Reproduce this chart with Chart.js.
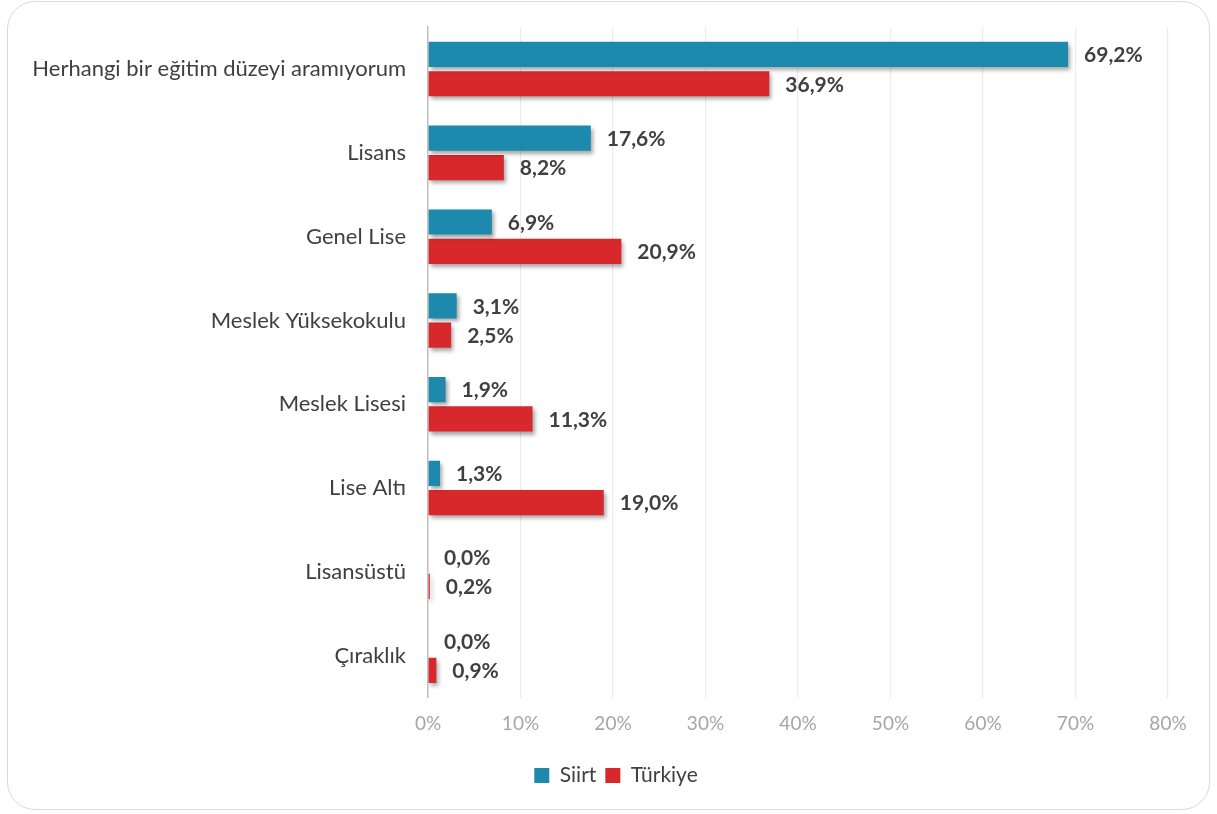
<!DOCTYPE html>
<html>
<head>
<meta charset="utf-8">
<script src="https://cdn.jsdelivr.net/npm/chart.js@4.4.0/dist/chart.umd.min.js"></script>
<style>
  html, body { margin: 0; padding: 0; background: #fff; }
  #wrap { position: relative; width: 1217px; height: 814px; }
  #frame {
    position: absolute; left: 7px; top: 1px; width: 1203px; height: 809px;
    border: 1.5px solid #d9d9d9; border-radius: 28px; box-sizing: border-box;
  }
  #chart { position: absolute; left: 0; top: 0; }
</style>
</head>
<body>
<div id="wrap">
  <div id="frame"></div>
  <canvas id="chart" width="1217" height="814"></canvas>
</div>
<script>
const categories = [
  "Herhangi bir eğitim düzeyi aramıyorum",
  "Lisans",
  "Genel Lise",
  "Meslek Yüksekokulu",
  "Meslek Lisesi",
  "Lise Altı",
  "Lisansüstü",
  "Çıraklık",
];
const siirtValues = [69.2, 17.6, 6.9, 3.1, 1.9, 1.3, 0.0, 0.0];
const turkiyeValues = [36.9, 8.2, 20.9, 2.5, 11.3, 19.0, 0.2, 0.9];
const seriesNames = ["Siirt", "Türkiye"];

const FONT = "Lato, 'Open Sans', sans-serif";

// soft drop shadow under the bars, like the original
const barShadow = {
  id: "barShadow",
  beforeDatasetsDraw(chart) {
    const ctx = chart.ctx;
    ctx.save();
    ctx.shadowColor = "rgba(0,0,0,0.35)";
    ctx.shadowBlur = 4;
    ctx.shadowOffsetX = 2;
    ctx.shadowOffsetY = 3;
  },
  afterDatasetsDraw(chart) {
    chart.ctx.restore();
  },
};

const valueLabels = {
  id: "valueLabels",
  afterDatasetsDraw(chart) {
    const ctx = chart.ctx;
    ctx.save();
    ctx.font = "bold 21px " + FONT;
    ctx.fillStyle = "#404040";
    ctx.textAlign = "left";
    ctx.textBaseline = "middle";
    chart.data.datasets.forEach((ds, i) => {
      const meta = chart.getDatasetMeta(i);
      meta.data.forEach((bar, j) => {
        const txt = ds.data[j].toFixed(1).replace(".", ",") + "%";
        ctx.fillText(txt, bar.x + 16, bar.y + 1);
      });
    });
    ctx.restore();
  },
};

// the legend sits a bit right of the plot centre in the original
const legendShift = {
  id: "legendShift",
  afterLayout(chart) {
    chart.legend.left += 32;
    chart.legend.right += 32;
  },
};

const ctx = document.getElementById("chart").getContext("2d");
new Chart(ctx, {
  type: "bar",
  data: {
    labels: categories,
    datasets: [
      {
        label: seriesNames[0],
        data: siirtValues,
        backgroundColor: "#1c89ad",
        categoryPercentage: 0.7,
        barPercentage: 0.86,
      },
      {
        label: seriesNames[1],
        data: turkiyeValues,
        backgroundColor: "#d7282c",
        categoryPercentage: 0.7,
        barPercentage: 0.86,
      },
    ],
  },
  options: {
    indexAxis: "y",
    responsive: false,
    animation: false,
    layout: { padding: { top: 26, right: 49, bottom: 18, left: 0 } },
    scales: {
      x: {
        min: 0,
        max: 80,
        ticks: {
          stepSize: 10,
          color: "#a6a6a6",
          font: { family: FONT, size: 19 },
          padding: 15,
          callback: (v) => v + "%",
        },
        grid: { color: "#ececec", lineWidth: 1.2, drawTicks: false },
        border: { display: false },
        afterFit: (s) => { s.height = 58.5; },
      },
      y: {
        ticks: {
          color: "#404040",
          font: { family: FONT, size: 22 },
          padding: 14,
        },
        grid: { display: false },
        border: { display: true, color: "#bfbfbf", width: 1.5 },
        afterFit: (s) => { s.width = 428; },
      },
    },
    plugins: {
      legend: {
        position: "bottom",
        labels: {
          color: "#404040",
          font: { family: FONT, size: 21 },
          boxWidth: 15,
          boxHeight: 15,
          padding: 9,
        },
      },
      tooltip: { enabled: false },
    },
  },
  plugins: [barShadow, valueLabels, legendShift],
});
</script>
</body>
</html>
